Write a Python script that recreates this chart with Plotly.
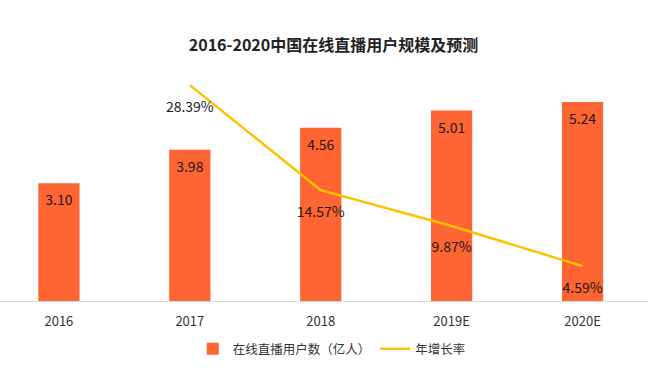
import plotly.graph_objects as go

categories = ["2016", "2017", "2018", "2019E", "2020E"]
users = [3.10, 3.98, 4.56, 5.01, 5.24]
growth_x = ["2017", "2018", "2019E", "2020E"]
growth = [28.39, 14.57, 9.87, 4.59]

FONT = "Noto Sans CJK SC"
BAR = "#FF6433"
LINE = "#FFC000"

fig = go.Figure()
fig.add_trace(go.Bar(
    x=categories, y=users, name="在线直播用户数（亿人）",
    marker=dict(color=BAR, line=dict(width=0)), width=0.315,
    hoverinfo="skip",
))
fig.add_trace(go.Scatter(
    x=categories, y=users, mode="markers+text",
    text=[f"{v:.2f}" for v in users], textposition="bottom center",
    textfont=dict(family=FONT, size=14, color="#1a1a1a"),
    marker=dict(size=17, color="rgba(0,0,0,0)"),
    showlegend=False, hoverinfo="skip",
))
fig.add_trace(go.Scatter(
    x=growth_x, y=growth, name="年增长率", yaxis="y2",
    mode="lines", line=dict(color=LINE, width=2.5),
    hoverinfo="skip",
))
fig.add_trace(go.Scatter(
    x=growth_x, y=growth, yaxis="y2", mode="markers+text",
    text=[f"{v:.2f}%" for v in growth], textposition="bottom center",
    textfont=dict(family=FONT, size=14, color="#1a1a1a"),
    marker=dict(size=24, color="rgba(0,0,0,0)"),
    showlegend=False, hoverinfo="skip",
))

fig.update_layout(
    width=667, height=381,
    margin=dict(l=0, r=19, t=60, b=80),
    paper_bgcolor="white", plot_bgcolor="white",
    font=dict(family=FONT, color="#333333"),
    title=dict(text="<b>2016-2020中国在线直播用户规模及预测</b>",
               x=0.5, xanchor="center", y=0.882, yanchor="middle",
               font=dict(family=FONT, size=16, color="#222222")),
    xaxis=dict(type="category", range=[-0.45, 4.5], showline=True,
               linecolor="#D9D9D9", linewidth=1, showgrid=False,
               ticks="", ticklabelstandoff=8,
               tickfont=dict(family=FONT, size=13, color="#333333")),
    yaxis=dict(range=[0, 6.342], visible=False, showgrid=False),
    yaxis2=dict(range=[0, 31.69], overlaying="y", side="right",
                visible=False, showgrid=False),
    legend=dict(orientation="h", x=0.512, xanchor="center", y=-0.2,
                yanchor="middle", font=dict(family=FONT, size=12.5, color="#333333"),
                itemwidth=30),
    showlegend=True,
)

fig.write_html("out.html",
               config={"displayModeBar": False},
               post_script="document.body.style.margin='0px';document.body.style.overflow='hidden';")
